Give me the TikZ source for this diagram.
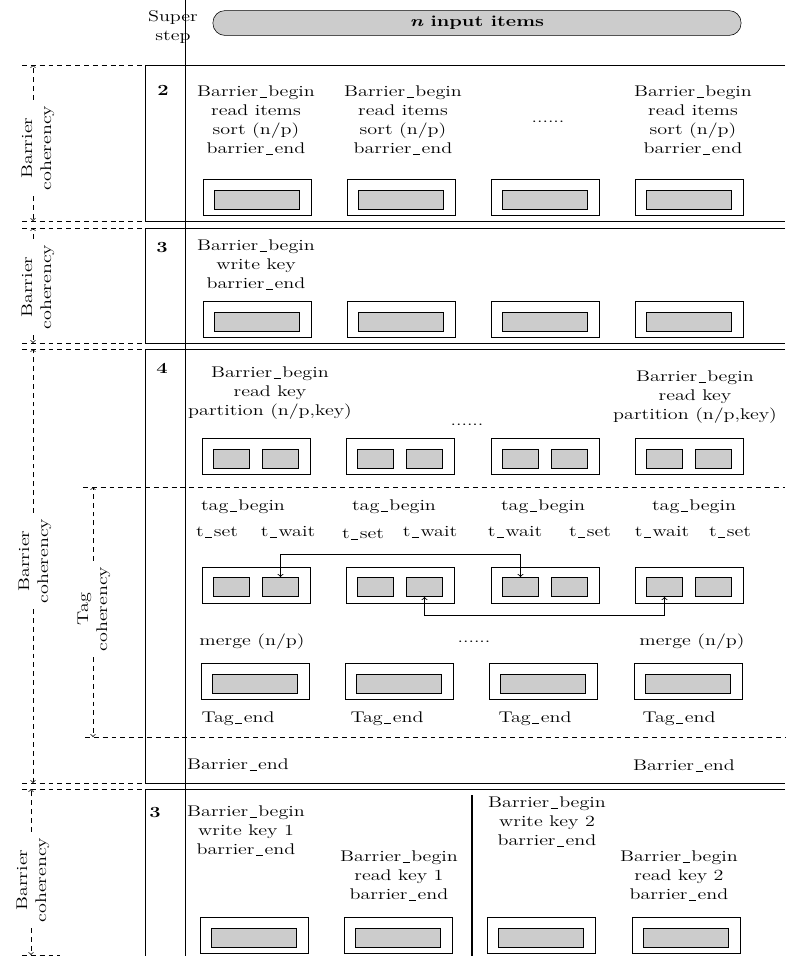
\documentclass[tikz,border=0pt]{standalone}
\usetikzlibrary{calc}
\newcommand{\dfont}{\fontsize{11}{13.5}\selectfont}
\newcommand{\us}{\kern0.07em\rule[-0.12ex]{0.36em}{0.45pt}\kern0.07em}
\begin{document}
\begin{tikzpicture}[x=0.025cm,y=-0.025cm,
    txt/.style={font=\dfont,align=center,inner sep=0pt,xscale=1.3},
    num/.style={txt,font=\dfont\bfseries},
    lbl/.style={font=\dfont,align=center,inner sep=3pt,rotate=90,xscale=1.3},
    secline/.style={line width=0.6pt},
    cutline/.style={line width=0.5pt,dash pattern=on 3.5pt off 2.8pt},
    dimline/.style={cutline,->},
    link/.style={<->,line width=0.6pt},
    pbox/.style={draw,line width=0.6pt,minimum width=2.7cm,minimum height=0.9cm,inner sep=0pt},
    inbar/.style={draw,fill=gray!40,line width=0.6pt,minimum width=2.125cm,minimum height=0.475cm,inner sep=0pt},
    slot/.style={inbar,minimum width=0.9cm},
    pill/.style={draw,fill=gray!40,rounded corners=0.3cm,minimum width=13.2cm,minimum height=0.62cm,inner sep=0pt}]
  \useasboundingbox (0,0) rectangle (785,956);

  % header
  \node[txt] (super) at (173,27) {Super\\step};
  \node[pill] (items) at (477,23) {\scalebox{1.3}[1]{\dfont\bfseries\itshape n\upshape\ input items}};
  \draw[secline] (185,0) -- (185,956);

  % section frames
  \draw[secline] (785,65) -- (145,65) -- (145,221) -- (785,221);
  \draw[secline] (785,228) -- (145,228) -- (145,343) -- (785,343);
  \draw[secline] (785,349) -- (145,349) -- (145,783) -- (785,783);
  \draw[secline] (785,789) -- (145,789) -- (145,956);
  \foreach \y in {65,221,228,343,349,783,789} \draw[cutline] (22,\y) -- (145,\y);
  \draw[cutline] (22,955) -- (60,955);
  \draw[cutline] (83,487) -- (785,487);
  \draw[cutline] (85,737) -- (785,737);

  % coherency labels
  \node[lbl] (bc1) at (38,148) {Barrier\\coherency};
  \node[lbl] (bc2) at (38,287) {Barrier\\coherency};
  \node[lbl] (bc3) at (35,561) {Barrier\\coherency};
  \node[lbl] (bc4) at (33,880) {Barrier\\coherency};
  \node[lbl] (tc) at (94,609) {Tag\\coherency};
  \coordinate (bt1) at (33,65);  \coordinate (bb1) at (33,221);
  \coordinate (bt2) at (33,228); \coordinate (bb2) at (33,343);
  \coordinate (bt3) at (33,349); \coordinate (bb3) at (33,783);
  \coordinate (bt4) at (31,789); \coordinate (bb4) at (31,955);
  \coordinate (tt) at (93,487);  \coordinate (tb) at (93,737);
  \foreach \k in {1,2,3,4}{
    \draw[dimline] (bc\k.east -| bt\k) -- (bt\k);
    \draw[dimline] (bc\k.west -| bb\k) -- (bb\k);
  }
  \draw[dimline] (tc.east -| tt) -- (tt);
  \draw[dimline] (tc.west -| tb) -- (tb);

  % superstep 2
  \node[num] (s2) at (163,90) {2};
  \node[txt] (w21) at (256,120) {Barrier\us begin\\read items\\sort (n/p)\\barrier\us end};
  \node[txt] (w22) at (403,120) {Barrier\us begin\\read items\\sort (n/p)\\barrier\us end};
  \node[txt] (w23) at (548,122) {......};
  \node[txt] (w24) at (693,120) {Barrier\us begin\\read items\\sort (n/p)\\barrier\us end};
  \foreach \c [count=\i] in {257,401,545,689}{
    \node[pbox] (p2\i) at (\c,197.5) {};
    \node[inbar] (q2\i) at (\c,200) {};
  }

  % superstep 3
  \node[num] (s3) at (162,248) {3};
  \node[txt] (w31) at (256,265) {Barrier\us begin\\write key\\barrier\us end};
  \foreach \c [count=\i] in {257,401,545,689}{
    \node[pbox] (p3\i) at (\c,319) {};
    \node[inbar] (q3\i) at (\c,321.5) {};
  }

  % superstep 4
  \node[num] (s4) at (162,368) {4};
  \node[txt] (w41) at (270,393) {Barrier\us begin\\read key\\partition (n/p,key)};
  \node[txt] (w42) at (467,425) {......};
  \node[txt] (w44) at (695,397) {Barrier\us begin\\read key\\partition (n/p,key)};
  \foreach \c [count=\i] in {256,400,545,689}{
    \node[pbox] (p4\i) at (\c,456.5) {};
    \node[slot] (ul\i) at (\c-24.5,459) {};
    \node[slot] (ur\i) at (\c+24.5,459) {};
  }
  \foreach \c [count=\i] in {243,394,543,694}
    \node[txt] (tg\i) at (\c,507) {tag\us begin};
  \node[txt] (ts1) at (217,532) {t\us set};
  \node[txt] (tw1) at (288,532) {t\us wait};
  \node[txt] (ts2) at (363,534) {t\us set};
  \node[txt] (tw2) at (430,532) {t\us wait};
  \node[txt] (tw3) at (515,532) {t\us wait};
  \node[txt] (ts3) at (590,532) {t\us set};
  \node[txt] (tw4) at (662,532) {t\us wait};
  \node[txt] (ts4) at (730,532) {t\us set};
  \foreach \c [count=\i] in {256,400,545,689}{
    \node[pbox] (pt\i) at (\c,585) {};
    \node[slot] (tl\i) at (\c-24.5,587) {};
    \node[slot] (tr\i) at (\c+24.5,587) {};
  }
  \draw[link] (tr1.north) -- ++(0,-23) -| (tl3.north);
  \draw[link] (tr2.south) -- ++(0,18) -| (tl4.south);
  \node[txt] (m1) at (252,642) {merge (n/p)};
  \node[txt] (m2) at (474,642) {......};
  \node[txt] (m4) at (692,642) {merge (n/p)};
  \foreach \c [count=\i] in {255,399,543,688}{
    \node[pbox] (pm\i) at (\c,681) {};
    \node[inbar] (qm\i) at (\c,683.5) {};
  }
  \foreach \c [count=\i] in {238,387,535,679}
    \node[txt] (te\i) at (\c,719) {Tag\us end};
  \node[txt] (be1) at (238,765) {Barrier\us end};
  \node[txt] (be4) at (684,766) {Barrier\us end};

  % superstep 3, split keys
  \node[num] (s5) at (155,813) {3};
  \node[txt] (w51) at (246,831) {Barrier\us begin\\write key 1\\barrier\us end};
  \node[txt] (w52) at (399,876) {Barrier\us begin\\read key 1\\barrier\us end};
  \node[txt] (w53) at (547,822) {Barrier\us begin\\write key 2\\barrier\us end};
  \node[txt] (w54) at (679,876) {Barrier\us begin\\read key 2\\barrier\us end};
  \draw[line width=2pt] (472,795) -- (472,956);
  \foreach \c [count=\i] in {254,398,541,686}{
    \node[pbox] (p5\i) at (\c,935) {};
    \node[inbar] (q5\i) at (\c,937.5) {};
  }
\end{tikzpicture}
\end{document}
